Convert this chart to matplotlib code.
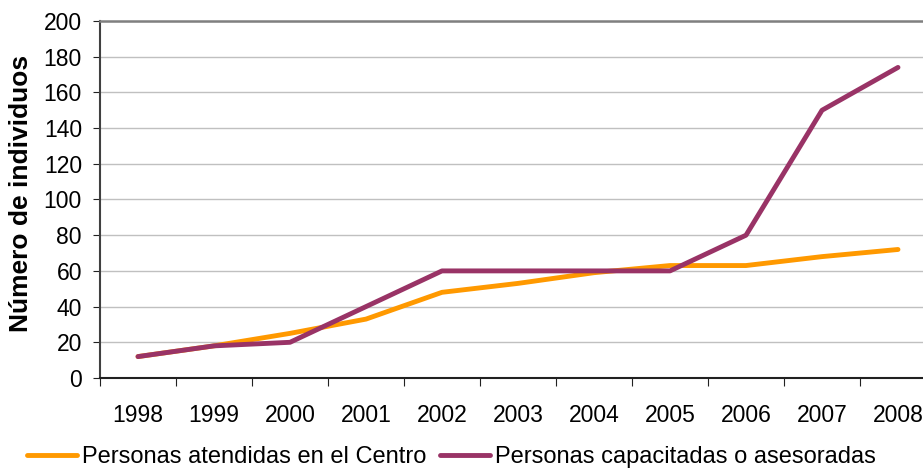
import numpy as np
import matplotlib.pyplot as plt

plt.rcParams['font.family'] = ['Liberation Sans', 'DejaVu Sans']

years = ['1998', '1999', '2000', '2001', '2002', '2003', '2004', '2005', '2006', '2007', '2008']
atendidas = [12, 18, 25, 33, 48, 53, 59, 63, 63, 68, 72]
capacitadas = [12, 18, 20, 40, 60, 60, 60, 60, 80, 150, 174]

W, H = 923, 469
fig = plt.figure(figsize=(W / 100, H / 100), dpi=100)
ax = fig.add_axes([100 / W, (H - 378) / H, 836 / W, 357 / H])

x = np.arange(len(years))
ax.plot(x, atendidas, color='#FF9900', lw=3.5, solid_capstyle='round',
        label='Personas atendidas en el Centro')
ax.plot(x, capacitadas, color='#993366', lw=3.5, solid_capstyle='round',
        label='Personas capacitadas o asesoradas')

ax.set_xlim(-0.5, len(years) - 0.5)
ax.set_ylim(0, 200)
ax.set_yticks(range(0, 201, 20))
ax.yaxis.grid(True, color='#c0c0c0', lw=1)
ax.set_axisbelow(True)

# ticks at category boundaries, labels at centers
ax.set_xticks(np.arange(-0.5, len(years), 1))
ax.set_xticklabels([])
ax.set_xticks(x, minor=True)
ax.set_xticklabels(years, minor=True)
ax.tick_params(axis='x', which='major', length=5.5, direction='out', color='#222222')
ax.tick_params(axis='x', which='minor', length=0, pad=19, labelsize=16.5)
ax.tick_params(axis='y', length=5, direction='out', pad=8, labelsize=16.5, color='#222222')

ax.spines['right'].set_visible(False)
ax.spines['top'].set_color('#808080')
ax.spines['top'].set_linewidth(1.8)
ax.spines['left'].set_color('#404040')
ax.spines['left'].set_linewidth(1.5)
ax.spines['bottom'].set_color('#202020')
ax.spines['bottom'].set_linewidth(1.5)

ax.set_ylabel('Número de individuos', fontsize=19, fontweight='bold')
ax.yaxis.set_label_coords(-0.080, 0.518)

fig.legend(loc='center left', bbox_to_anchor=(27 / W, 1 - 457 / H), ncol=2,
           frameon=False, fontsize=17, borderaxespad=0, borderpad=0,
           handlelength=2.12, handletextpad=0.22, columnspacing=0.55)

fig.savefig('out.png', dpi=100)
